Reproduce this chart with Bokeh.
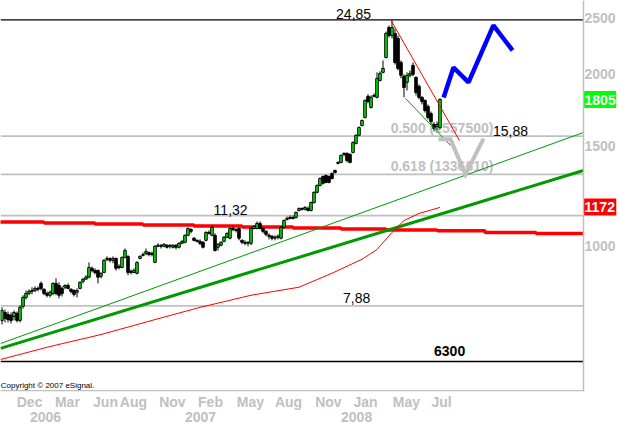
from bokeh.plotting import figure
from bokeh.models import Range1d, FixedTicker, LinearAxis, Span, Label, NumeralTickFormatter
from bokeh.embed import file_html
from bokeh.resources import INLINE

# ---------------- data (weekly bars, index 0..146) ----------------
opens = [743, 767, 761, 758, 755, 764, 743, 786, 815, 828,
         835, 838, 845, 862, 842, 828, 822, 828, 862, 855,
         845, 849, 855, 842, 838, 832, 845, 869, 877, 884,
         916, 908, 908, 887, 901, 950, 953, 946, 953, 919,
         919, 957, 961, 905, 901, 898, 953, 965, 972, 976,
         968, 938, 1001, 1005, 1001, 1005, 1001, 997, 1005, 997,
         1013, 1017, 1046, 1071, 1034, 1025, 1021, 1017, 1025, 1058,
         1046, 1046, 997, 1005, 1021, 1038, 1034, 1075, 1071, 1075,
         1025, 1017, 1013, 1013, 1075, 1075, 1097, 1075, 1063, 1046,
         1042, 1034, 1038, 1034, 1080, 1115, 1119, 1124, 1124, 1156,
         1165, 1161, 1165, 1156, 1193, 1243, 1278, 1325, 1330, 1325,
         1341, 1357, 1402, 1402, 1448, 1454, 1448, 1459, 1513, 1563,
         1626, 1679, 1828, 1748, 1828, 1821, 1949, 2013, 2137, 2411,
         2335, 2354, 2307, 2095, 1981, 1934, 1989, 2070, 1973, 1903,
         1821, 1798, 1755, 1706, 1633, 1620, 1613]
highs = [783, 776, 770, 767, 773, 770, 789, 822, 838, 842,
         849, 852, 852, 869, 845, 835, 838, 866, 880, 866,
         852, 859, 862, 845, 842, 845, 869, 880, 891, 938,
         923, 916, 912, 901, 950, 961, 957, 961, 957, 931,
         961, 992, 965, 912, 916, 942, 965, 976, 992, 980,
         980, 1005, 1013, 1009, 1013, 1009, 1009, 1009, 1009, 1017,
         1025, 1050, 1080, 1075, 1038, 1029, 1029, 1021, 1063, 1067,
         1088, 1054, 1013, 1021, 1042, 1058, 1080, 1084, 1075, 1080,
         1029, 1025, 1021, 1080, 1088, 1106, 1106, 1080, 1067, 1054,
         1046, 1046, 1050, 1084, 1115, 1128, 1133, 1133, 1151, 1170,
         1170, 1175, 1175, 1198, 1248, 1283, 1320, 1330, 1335, 1330,
         1346, 1362, 1408, 1448, 1459, 1459, 1454, 1525, 1569, 1620,
         1666, 1806, 1843, 1835, 1850, 2013, 2021, 2112, 2372, 2431,
         2480, 2401, 2335, 2112, 1997, 2013, 2029, 2095, 1981, 1918,
         1828, 1806, 1770, 1720, 1646, 1652, 1813]
lows = [731, 737, 737, 734, 743, 737, 737, 779, 808, 822,
        825, 832, 835, 838, 822, 815, 815, 822, 822, 812,
        818, 842, 842, 828, 818, 815, 842, 862, 877, 880,
        901, 894, 862, 880, 898, 942, 938, 935, 908, 912,
        916, 953, 891, 894, 898, 894, 950, 961, 965, 961,
        961, 935, 997, 992, 997, 992, 992, 992, 988, 992,
        1009, 1013, 1042, 1054, 1021, 1017, 1005, 992, 1021, 1050,
        1042, 980, 984, 1001, 1017, 1034, 1029, 1063, 1058, 1025,
        1009, 1005, 1001, 1005, 1071, 1071, 1071, 1054, 1042, 1029,
        1025, 1025, 1029, 1029, 1075, 1110, 1115, 1115, 1119, 1151,
        1156, 1156, 1151, 1151, 1188, 1238, 1273, 1283, 1289, 1289,
        1309, 1341, 1391, 1397, 1436, 1402, 1397, 1454, 1507, 1557,
        1620, 1672, 1777, 1741, 1821, 1813, 1941, 2005, 2129, 2316,
        2307, 2078, 2029, 1965, 1821, 1872, 1973, 1981, 1835, 1806,
        1770, 1713, 1666, 1633, 1588, 1594, 1600]
closes = [773, 749, 746, 743, 767, 743, 783, 815, 828, 835,
          838, 845, 842, 845, 828, 822, 832, 862, 828, 822,
          828, 855, 845, 835, 825, 838, 866, 877, 884, 919,
          908, 901, 884, 898, 946, 953, 946, 953, 916, 923,
          957, 984, 901, 901, 908, 938, 961, 968, 980, 968,
          972, 1001, 1005, 1001, 1009, 997, 1005, 1005, 997, 1013,
          1021, 1046, 1075, 1063, 1025, 1021, 1013, 997, 1058, 1054,
          1080, 984, 1009, 1017, 1038, 1054, 1075, 1071, 1067, 1034,
          1017, 1013, 1017, 1075, 1084, 1097, 1075, 1063, 1050, 1042,
          1034, 1038, 1042, 1080, 1110, 1119, 1124, 1119, 1147, 1165,
          1161, 1170, 1156, 1193, 1243, 1278, 1314, 1289, 1294, 1294,
          1314, 1346, 1397, 1442, 1454, 1413, 1402, 1519, 1563, 1613,
          1659, 1798, 1791, 1821, 1835, 1965, 2005, 2045, 2354, 2335,
          2411, 2095, 2045, 1989, 1895, 1989, 2005, 1997, 1857, 1821,
          1791, 1727, 1679, 1652, 1607, 1633, 1806]
weeks = list(range(len(closes)))

# moving average (thin red)
ma_week = [-0.5, 16, 33, 50, 66, 83, 99, 110, 120, 125, 130, 134, 139, 146]
ma_value = [635, 669, 702, 743, 783, 822, 849, 898, 950, 988, 1058, 1110, 1142, 1170]

# thick red stepped level
level_week = [-1, 14, 31, 47, 64, 80, 97, 113, 128, 145, 161, 178, 193.8]
level_value = [1103, 1099, 1095, 1090, 1086, 1082, 1077, 1073, 1069, 1065, 1058, 1054, 1054]

# trend lines
trend_thin_week = [-0.5, 193.8]
trend_thin_value = [677, 1581]
trend_thick_week = [-0.5, 193.8]
trend_thick_value = [664, 1357]
down_week = [129.5, 152.5]
down_value = [2490, 1531]
chan_week = [134.5, 149.5]
chan_value = [1813, 1501]

# projections
proj_blue_week = [147.2, 150.5, 155.5, 163.8, 170.2]
proj_blue_value = [1820, 2053, 1933, 2431, 2198]
proj_gray_week = [145.5, 149.5, 154.5, 160.5]
proj_gray_value = [1538, 1538, 1336, 1543]

# horizontal levels
black_levels = [2485, 630]
gray_levels = [1557.5, 1336.61, 1132, 788]

# last values
last_close = 1805
level_last = 1172

# axis ticks
month_ticks = [9.2, 21.8, 34.5, 43.8, 56.8, 69.5, 82.8, 95.5, 108.8, 121.2, 134.8, 146.5]
month_labels = ["Dec", "Mar", "Jun", "Aug", "Nov", "Feb", "May", "Aug", "Nov", "Jan", "May", "Jul"]
year_ticks = [14.5, 66.2, 118.2]
year_labels = ["2006", "2007", "2008"]
price_ticks = [1000, 1500, 2000, 2500]

FONT = "Liberation Sans"
GRAY = "#C0C0C0"
GREEN = "#009900"
X0, X1 = -0.5, 193.83          # chart area (left edge, right border)
XR = 204.83                    # right edge of the value-box column

p = figure(frame_width=616, frame_height=391,
           x_range=Range1d(-0.5, XR), y_range=Range1d(558.4, 2687),
           y_axis_type="log", y_axis_location="right",
           output_backend="svg", toolbar_location=None, title=None,
           min_border_left=0, min_border_top=0, min_border_bottom=0, min_border_right=0)
p.outline_line_color = None
p.background_fill_color = "white"
p.border_fill_color = "white"
p.xgrid.visible = False
p.ygrid.visible = False

# right axis (labels pulled back next to the chart border)
ya = p.yaxis[0]
ya.ticker = FixedTicker(ticks=price_ticks)
ya.formatter = NumeralTickFormatter(format="0")
ya.major_tick_line_color = None
ya.minor_tick_line_color = None
ya.major_tick_out = 0
ya.major_tick_in = 0
ya.minor_tick_out = 0
ya.axis_line_color = None
ya.major_label_standoff = -32
ya.major_label_text_color = GRAY
ya.major_label_text_font = FONT
ya.major_label_text_font_style = "bold"
ya.major_label_text_font_size = "14px"

# bottom axis: months
xa = p.xaxis[0]
xa.ticker = FixedTicker(ticks=month_ticks)
xa.major_label_overrides = {t: l for t, l in zip(month_ticks, month_labels)}
xa.major_tick_line_color = None
xa.minor_tick_line_color = None
xa.major_tick_out = 0
xa.major_tick_in = 0
xa.minor_tick_out = 0
xa.axis_line_color = None
xa.major_label_standoff = 2
xa.major_label_text_color = GRAY
xa.major_label_text_font = FONT
xa.major_label_text_font_style = "bold"
xa.major_label_text_font_size = "14px"

# second bottom axis: years
xa2 = LinearAxis(ticker=FixedTicker(ticks=year_ticks),
                 major_label_overrides={t: l for t, l in zip(year_ticks, year_labels)},
                 axis_line_color=None, major_tick_line_color=None, minor_tick_line_color=None,
                 major_tick_out=0, major_tick_in=0, minor_tick_out=0,
                 major_label_standoff=-1, major_label_text_color=GRAY,
                 major_label_text_font=FONT, major_label_text_font_style="bold",
                 major_label_text_font_size="14px")
p.add_layout(xa2, "below")

# chart border (right and bottom)
p.add_layout(Span(location=X1, dimension="height", line_color=GRAY, line_width=1.5))
p.line([X0, X1], [560, 560], line_color=GRAY, line_width=1.5)

# horizontal levels
p.segment([X0] * len(gray_levels), gray_levels, [X1] * len(gray_levels), gray_levels,
          line_color=GRAY, line_width=1.8)
p.segment([X0] * len(black_levels), black_levels, [X1] * len(black_levels), black_levels,
          line_color="black", line_width=1.3)

# fib texts (drawn below candles)
for txt, yv in [("0.500 (1557500)", 1610), ("0.618 (1336610)", 1382)]:
    p.add_layout(Label(x=163.8, y=yv, text=txt, text_align="right", text_baseline="middle",
                       text_color=GRAY, text_font=FONT, text_font_style="bold",
                       text_font_size="14px", level="underlay"))

# thick red stepped level
p.step(level_week, level_value, mode="after", line_color="#FF0000", line_width=3.5)

# trend lines
p.line(trend_thin_week, trend_thin_value, line_color=GREEN, line_width=1)
p.line(trend_thick_week, trend_thick_value, line_color=GREEN, line_width=3)
p.line(ma_week, ma_value, line_color="#FF0000", line_width=1)

# candles
fill = ["#00F000" if c >= o else "black" for o, c in zip(opens, closes)]
tops = [max(o, c) for o, c in zip(opens, closes)]
bots = [min(o, c) for o, c in zip(opens, closes)]
p.segment(weeks, highs, weeks, lows, line_color="black", line_width=1)
p.vbar(x=weeks, width=0.85, top=tops, bottom=bots, fill_color=fill, line_color="black", line_width=1)

# overlays
p.line(down_week, down_value, line_color="#FF0000", line_width=1)
p.line(chan_week, chan_value, line_color=GREEN, line_width=1)
p.line(proj_gray_week, proj_gray_value, line_color=GRAY, line_width=4, line_join="miter")
p.line(proj_blue_week, proj_blue_value, line_color="#0000FF", line_width=4.5)

# level texts
texts = [("24,85", 117.2, 2550, "normal"),
         ("11,32", 76.2, 1160, "normal"),
         ("7,88", 118.2, 812, "normal"),
         ("6300", 149.2, 656, "bold"),
         ("15,88", 169.5, 1588, "normal")]
for txt, xv, yv, st in texts:
    p.add_layout(Label(x=xv, y=yv, text=txt, text_align="center", text_baseline="middle",
                       text_color="black", text_font=FONT, text_font_style=st,
                       text_font_size="14px"))

p.add_layout(Label(x=-0.4, y=573, text="Copyright \u00a9 2007 eSignal.", text_align="left",
                   text_baseline="middle", text_color="black", text_font=FONT,
                   text_font_size="8px"))

# last value boxes (box height ~17 px on the log scale)
half = 10 ** (8.5 / 573)
box_vals = [last_close, level_last]
box_cols = ["#00FF00", "#FF0000"]
p.quad(left=[X1 + 0.1] * 2, right=[XR] * 2,
       top=[v * half for v in box_vals], bottom=[v / half for v in box_vals],
       fill_color=box_cols, line_color=None)
for val in box_vals:
    p.add_layout(Label(x=X1 + 0.35, y=val, text=str(val), text_align="left", text_baseline="middle",
                       text_color="white", text_font=FONT, text_font_style="bold",
                       text_font_size="14px"))

open("out.html", "w").write(file_html(p, INLINE))
